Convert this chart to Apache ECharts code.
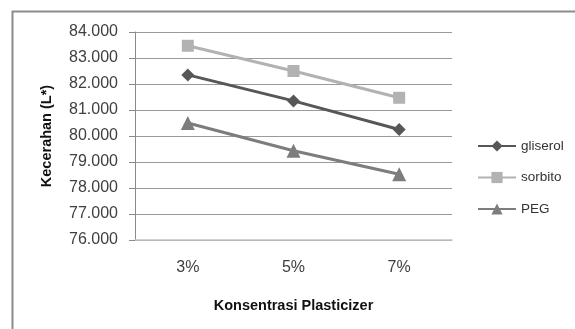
<!DOCTYPE html>
<html>
<head>
<meta charset="utf-8">
<script src="https://cdn.jsdelivr.net/npm/echarts@6/dist/echarts.min.js"></script>
<style>
  html, body { margin: 0; padding: 0; background: #fff; }
  #chart { width: 575px; height: 329px; }
</style>
</head>
<body>
<div id="chart"></div>
<script>
// Lightness (L*) by plasticizer concentration
const categories = ['3%', '5%', '7%'];
const gliserol = [82.35, 81.35, 80.25];
const sorbito = [83.47, 82.50, 81.47];
const peg = [80.50, 79.43, 78.53];
const seriesNames = ['gliserol', 'sorbito', 'PEG'];
const yMin = 76, yMax = 84, yStep = 1;

const FONT = '"Liberation Sans", Arial, sans-serif';

const chart = echarts.init(document.getElementById('chart'), null, { renderer: 'canvas' });

chart.setOption({
  animation: false,
  backgroundColor: '#ffffff',
  graphic: [{
    type: 'rect',
    shape: { x: 12.5, y: 11.5, width: 700, height: 500 },
    style: { fill: 'none', stroke: '#8c8c8c', lineWidth: 2 },
    silent: true
  }],
  grid: { left: 135, right: 123, top: 32, bottom: 89 },
  legend: {
    orient: 'vertical',
    left: 472,
    top: 134,
    itemWidth: 38,
    itemHeight: 14,
    itemGap: 17.5,
    textStyle: { fontFamily: FONT, fontSize: 13.5, color: '#333' },
    data: seriesNames
  },
  xAxis: {
    type: 'category',
    data: categories,
    boundaryGap: true,
    axisTick: { show: false },
    axisLine: { lineStyle: { color: '#c4c4c4', width: 1.5 } },
    axisLabel: { fontFamily: FONT, fontSize: 16, color: '#404040', margin: 20 },
    name: 'Konsentrasi Plasticizer',
    nameLocation: 'middle',
    nameGap: 58,
    nameTextStyle: { fontFamily: FONT, fontSize: 14.5, fontWeight: 'bold', color: '#111' }
  },
  yAxis: {
    type: 'value',
    min: yMin,
    max: yMax,
    interval: yStep,
    axisLine: { show: true, lineStyle: { color: '#8a8a8a', width: 1 } },
    axisTick: { show: true, length: 6, lineStyle: { color: '#8a8a8a' } },
    splitLine: { lineStyle: { color: '#9a9a9a', width: 1 } },
    axisLabel: {
      fontFamily: FONT, fontSize: 16, color: '#404040', margin: 17,
      formatter: v => v.toFixed(3)
    },
    name: 'Kecerahan (L*)',
    nameLocation: 'middle',
    nameGap: 81,
    nameTextStyle: { fontFamily: FONT, fontSize: 14.5, fontWeight: 'bold', color: '#111' }
  },
  series: [
    {
      name: seriesNames[0], type: 'line', data: gliserol,
      symbol: 'diamond', symbolSize: 13,
      lineStyle: { color: '#575757', width: 3 },
      itemStyle: { color: '#575757' }
    },
    {
      name: seriesNames[1], type: 'line', data: sorbito,
      symbol: 'rect', symbolSize: 12,
      lineStyle: { color: '#b2b2b2', width: 3 },
      itemStyle: { color: '#b2b2b2' }
    },
    {
      name: seriesNames[2], type: 'line', data: peg,
      symbol: 'triangle', symbolSize: 14,
      lineStyle: { color: '#7d7d7d', width: 3 },
      itemStyle: { color: '#7d7d7d' }
    }
  ]
});
</script>
</body>
</html>
